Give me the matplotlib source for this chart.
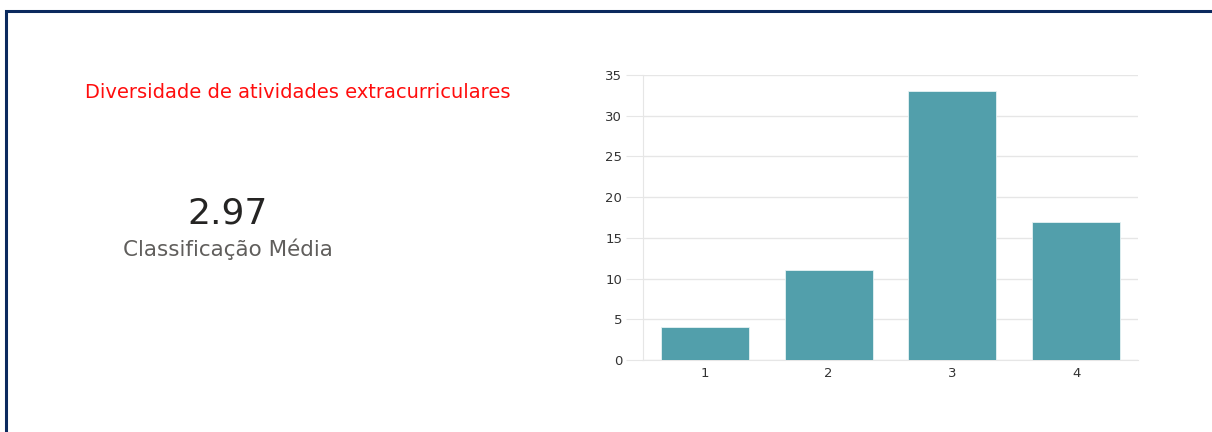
import matplotlib.pyplot as plt
from matplotlib.patches import Rectangle

# data
categories = ["1", "2", "3", "4"]
counts = [4, 11, 33, 17]
title = "Diversidade de atividades extracurriculares"
mean_value = "2.97"
mean_label = "Classificação Média"

plt.rcParams["font.family"] = ["DejaVu Sans"]

W, H = 1212, 432
fig = plt.figure(figsize=(W / 100, H / 100), dpi=100)
fig.patch.set_facecolor("white")

# card border (left and top visible)
fig.add_artist(Rectangle((6 / W, -0.1), 1.2, (H - 11) / H + 0.1,
                         transform=fig.transFigure, fill=False,
                         edgecolor="#0b2a5e", linewidth=2.2))

fig.text(298 / W, 1 - 93 / H, title, color="#ff0d0d", fontsize=14,
         ha="center", va="center")
fig.text(228 / W, 1 - 213 / H, mean_value, color="#252423", fontsize=26,
         ha="center", va="center")
fig.text(228 / W, 1 - 249 / H, mean_label, color="#605e5c", fontsize=15.5,
         ha="center", va="center")

ax = fig.add_axes([643 / W, 1 - 360 / H, 495 / W, 285 / H])
x = range(len(categories))
ax.bar(x, counts, width=0.71, color="#529fab", edgecolor="#e6f2f4",
       linewidth=0.6, zorder=3)
ax.set_xlim(-0.5, 3.5)
ax.set_ylim(0, 35)
ax.set_yticks(range(0, 36, 5))
ax.set_xticks(list(x))
ax.set_xticklabels(categories)
ax.grid(axis="y", color="#e6e6e6", linewidth=1, zorder=0)
for s in ["top", "right"]:
    ax.spines[s].set_visible(False)
ax.spines["left"].set_color("#e6e6e6")
ax.spines["bottom"].set_color("#e6e6e6")
ax.tick_params(axis="y", length=12, color="#e6e6e6", labelsize=9.5,
               labelcolor="#333333", pad=3)
ax.tick_params(axis="x", length=0, labelsize=9.5, labelcolor="#333333", pad=5)
for lab in ax.get_yticklabels():
    lab.set_horizontalalignment("right")

fig.savefig("out.png", dpi=100)
